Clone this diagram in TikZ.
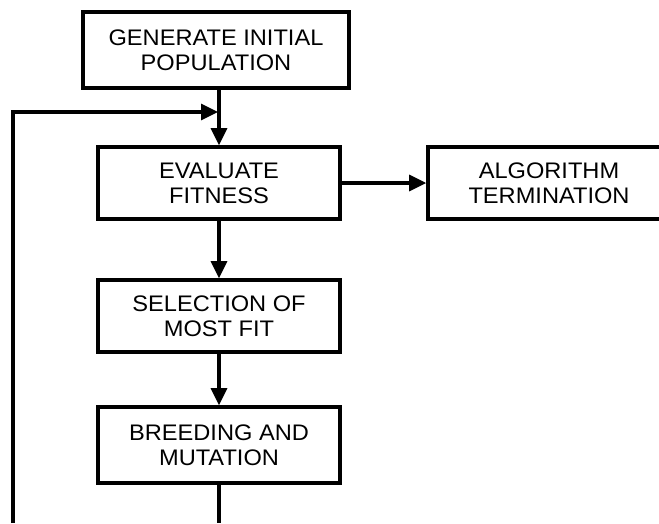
\documentclass[tikz,border=0pt]{standalone}
\usepackage{fontspec}
\setmainfont{Liberation Sans}[FakeStretch=1.05]
\usetikzlibrary{arrows.meta}
\tikzset{
  stage/.style={draw, line width=3.6pt, fill=white, align=center, inner sep=0pt,
    minimum width=242pt, minimum height=72pt,
    font=\fontsize{22.5pt}{25pt}\selectfont},
  link/.style={line width=3.2pt, -{Triangle[length=17pt,width=16pt]}},
  plain/.style={line width=3.2pt}
}
\begin{document}
\begin{tikzpicture}[x=1pt, y=-1pt]
  \useasboundingbox (0,0) rectangle (659,523);
  \clip (0,0) rectangle (659,523);
  \fill[white] (0,0) rectangle (659,523);

  % process stages
  \node[stage, minimum width=266pt, minimum height=76pt] (gen) at (216,50) {GENERATE INITIAL\\POPULATION};
  \node[stage] (eval) at (219,183) {EVALUATE\\FITNESS};
  \node[stage] (term) at (549,183) {ALGORITHM\\TERMINATION};
  \node[stage] (sel) at (219,316) {SELECTION OF\\MOST FIT};
  \node[stage, minimum height=76pt] (breed) at (219,445) {BREEDING AND\\MUTATION};

  % loop-back route
  \coordinate (loopin) at (13,523);
  \coordinate (loopcorner) at (13,112);
  \coordinate (merge) at (218,112);
  \coordinate (breedout) at (219,523);

  % connectors
  \draw[link] (gen.south -| eval.north) -- (eval.north);
  \draw[link] (eval.east) -- (term.west);
  \draw[link] (eval.south) -- (sel.north);
  \draw[link] (sel.south) -- (breed.north);
  \draw[plain] (breed.south) -- (breedout);
  \draw[link] (loopin) -- (loopcorner) -- (merge);
\end{tikzpicture}
\end{document}
